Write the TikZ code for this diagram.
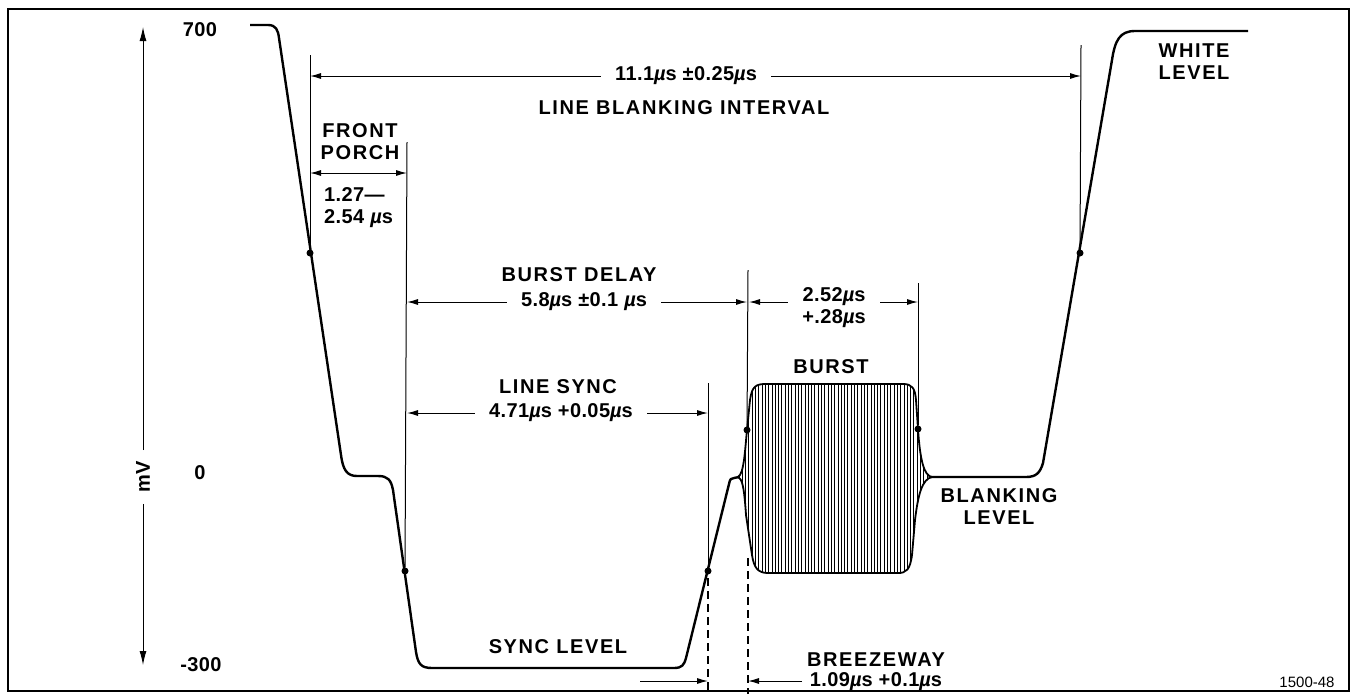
\documentclass[tikz,border=0pt]{standalone}
\usepackage{fontspec}
\setmainfont{Liberation Sans}
\newfontfamily\capsfont[LetterSpace=8]{Liberation Sans}
\newfontfamily\numfont[LetterSpace=2]{Liberation Sans}
\usetikzlibrary{arrows.meta}
\newcommand{\micros}{{\itshape µ}s}

\begin{document}
\begin{tikzpicture}[x=1pt,y=-1pt,
		wave/.style={line width=2.4pt,line join=round},
		dim/.style={line width=1pt,{Latex[length=11pt,width=6pt]}-{Latex[length=11pt,width=6pt]}},
		extline/.style={line width=1pt},
		dashline/.style={line width=1.4pt,dash pattern=on 8pt off 5pt},
		hatch/.style={line width=1pt},
		caps/.style={font=\capsfont\bfseries\fontsize{20}{22}\selectfont,align=center,inner sep=0pt},
		nums/.style={font=\numfont\bfseries\fontsize{20}{22}\selectfont,align=center,inner sep=0pt},
		gap/.style={nums,fill=white,inner xsep=14pt,inner ysep=1pt},
		dot/.style={circle,fill,inner sep=0pt,minimum size=7pt}]
				\useasboundingbox (0,0) rectangle (1354,694);
				%Frame
				\draw[line width=2pt] (8,9) rectangle (1349,691);

				%Axis
				\node[nums,rotate=90,inner xsep=11pt] (mv) at (143,477) {mV};
				\coordinate      (ax0) 	at 	(143,27);
				\coordinate      (ax1) 	at 	(143,665);
				\draw[line width=1pt,-{Latex[length=14pt,width=7pt]}] (mv.east) -- (ax0);
				\draw[line width=1pt,-{Latex[length=14pt,width=7pt]}] (mv.west) -- (ax1);
				\node[nums] (l700) at (200,30) {700};
				\node[nums] (l0) at (200,473) {0};
				\node[nums] (l300) at (201,665) {-300};

				%Burst
				\begin{scope}
					\clip (738,477) .. controls (744,474) and (745,450) .. (747,430) -- (750,400)
						.. controls (752,386) and (756,384) .. (766,384) -- (903,384)
						.. controls (912,384) and (915,388) .. (916,400) -- (918,429)
						.. controls (920,460) and (924,476) .. (932,477)
						.. controls (922,479) and (918,495) .. (915,520) -- (912,555)
						.. controls (910,570) and (906,573) .. (898,573) -- (768,573)
						.. controls (758,573) and (754,568) .. (752,555) -- (746,515)
						.. controls (744,485) and (742,479) .. (738,477) -- cycle;
					\foreach \hx in {739,742.3,...,933}
						\draw[hatch] (\hx,380) -- (\hx,578);
				\end{scope}
				\draw[wave,line width=1.8pt] (738,477) .. controls (744,474) and (745,450) .. (747,430) -- (750,400)
					.. controls (752,386) and (756,384) .. (766,384) -- (903,384)
					.. controls (912,384) and (915,388) .. (916,400) -- (918,429)
					.. controls (920,460) and (924,476) .. (932,477)
					.. controls (922,479) and (918,495) .. (915,520) -- (912,555)
					.. controls (910,570) and (906,573) .. (898,573) -- (768,573)
					.. controls (758,573) and (754,568) .. (752,555) -- (746,515)
					.. controls (744,485) and (742,479) .. (738,477) -- cycle;

				%Waveform
				\draw[wave] (250,25) -- (268,25) .. controls (276,25) and (278,30) .. (279,38)
					-- (341,455) .. controls (343,470) and (347,476) .. (357,476)
					-- (378,476) .. controls (388,476) and (391,480) .. (393,490)
					-- (416,652) .. controls (418,664) and (421,668) .. (432,668)
					-- (674,668) .. controls (682,668) and (684,665) .. (686,658)
					-- (729,484) .. controls (730,479) and (731,478) .. (734,478)
					-- (739,477);
				\draw[wave] (931,477) -- (1026,477) .. controls (1036,477) and (1040,473) .. (1043,463)
					-- (1112,60) .. controls (1115,40) and (1120,31) .. (1135,31) -- (1248,31);

				%Dots
				\node[dot] (d1) at (310,253) {};
				\node[dot] (d2) at (405,571) {};
				\node[dot] (d3) at (708,571) {};
				\node[dot] (d4) at (747,430) {};
				\node[dot] (d5) at (918,429) {};
				\node[dot] (d6) at (1080,253) {};

				%Extension lines
				\coordinate      (e1) 	at 	(310,55);
				\coordinate      (e2) 	at 	(407,142);
				\coordinate      (e3) 	at 	(708,383);
				\coordinate      (e4) 	at 	(748,270);
				\coordinate      (e5) 	at 	(918,283);
				\coordinate      (e6) 	at 	(1081,45);
				\coordinate      (f3) 	at 	(708,578);
				\coordinate      (g3) 	at 	(708,694);
				\coordinate      (f4) 	at 	(748,558);
				\coordinate      (g4) 	at 	(748,694);
				\draw[extline] (e1) -- (d1);
				\draw[extline] (e2) -- (d2);
				\draw[extline] (e3) -- (d3);
				\draw[extline] (e4) -- (d4);
				\draw[extline] (e5) -- (d5);
				\draw[extline] (e6) -- (d6);
				\draw[dashline] (f3) -- (g3);
				\draw[dashline] (f4) -- (g4);

				%Dimensions
				\coordinate      (a1) 	at 	(310,76);
				\coordinate      (a2) 	at 	(1081,76);
				\draw[dim] (a1) -- (a2);
				\node[gap] (t11) at (686,76) {11.1\micros\ ±0.25\micros};
				\node[caps] (lbi) at (684,108) {LINE BLANKING INTERVAL};

				\coordinate      (b1) 	at 	(310,173);
				\coordinate      (b2) 	at 	(407,173);
				\draw[dim] (b1) -- (b2);
				\node[caps] (fp) at (360,142) {FRONT\\PORCH};
				\node[nums,align=left,anchor=west] (fpt) at (324,208) {1.27—\\2.54 \micros};

				\coordinate      (c1) 	at 	(407,302);
				\coordinate      (c2) 	at 	(747,302);
				\coordinate      (c3) 	at 	(749,302);
				\coordinate      (c4) 	at 	(918,302);
				\draw[dim] (c1) -- (c2);
				\draw[dim] (c3) -- (c4);
				\node[gap] (bdt) at (584,302) {5.8\micros\ ±0.1 \micros};
				\node[caps] (bd) at (579,275) {BURST DELAY};
				\node[gap,inner xsep=14pt] (bwt) at (834,308) {2.52\micros\\+.28\micros};
				\node[caps] (bu) at (831,367) {BURST};

				\coordinate      (s1) 	at 	(407,413);
				\coordinate      (s2) 	at 	(708,413);
				\draw[dim] (s1) -- (s2);
				\node[gap] (lst) at (561,413) {4.71\micros\ +0.05\micros};
				\node[caps] (ls) at (558,387) {LINE SYNC};

				\node[caps] (sl) at (558,647) {SYNC LEVEL};
				\node[caps] (bl) at (999,507) {BLANKING\\LEVEL};
				\node[caps] (wl) at (1194,62) {WHITE\\LEVEL};

				\coordinate      (z1) 	at 	(640,681);
				\coordinate      (z2) 	at 	(708,681);
				\coordinate      (z3) 	at 	(802,681);
				\coordinate      (z4) 	at 	(748,681);
				\draw[extline,-{Latex[length=11pt,width=6pt]}] (z1) -- (z2);
				\draw[extline,-{Latex[length=11pt,width=6pt]}] (z3) -- (z4);
				\node[caps] (bz) at (876,660) {BREEZEWAY};
				\node[nums] (bzt) at (876,682) {1.09\micros\ +0.1\micros};

				\node[font=\fontsize{15}{17}\selectfont] (fig) at (1307,682) {1500-48};

\end{tikzpicture}
\end{document}
